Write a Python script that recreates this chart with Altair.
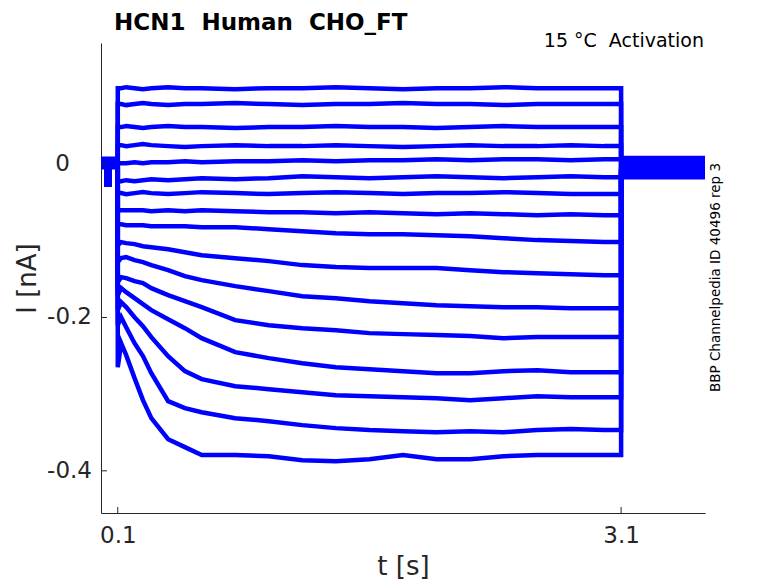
import altair as alt
import pandas as pd

# ---- data (current in nA, time in s) ----
T_STEP = [0.1, 0.12, 0.15, 0.2, 0.25, 0.3, 0.4, 0.5, 0.6, 0.8, 1.0, 1.2, 1.4,
          1.6, 1.8, 2.0, 2.2, 2.4, 2.6, 2.8, 3.0, 3.1]

TR1 = [0.0991, 0.0991, 0.1004, 0.0991, 0.0978, 0.0991, 0.1004, 0.0991, 0.0991, 0.0978, 0.0991,
       0.0991, 0.1004, 0.0991, 0.0978, 0.0991, 0.0991, 0.1004, 0.0991, 0.0991, 0.0991, 0.0991]
TR2 = [0.0783, 0.0783, 0.0770, 0.0783, 0.0796, 0.0783, 0.0770, 0.0783, 0.0783, 0.0796, 0.0783,
       0.0770, 0.0783, 0.0783, 0.0796, 0.0783, 0.0783, 0.0770, 0.0783, 0.0783, 0.0783, 0.0783]
TR3 = [0.0483, 0.0483, 0.0496, 0.0483, 0.0470, 0.0483, 0.0496, 0.0483, 0.0483, 0.0470, 0.0483,
       0.0483, 0.0496, 0.0483, 0.0483, 0.0470, 0.0483, 0.0496, 0.0483, 0.0483, 0.0483, 0.0483]
TR4 = [0.0248, 0.0248, 0.0235, 0.0248, 0.0261, 0.0248, 0.0235, 0.0222, 0.0235, 0.0248, 0.0235,
       0.0235, 0.0248, 0.0235, 0.0222, 0.0235, 0.0248, 0.0235, 0.0235, 0.0248, 0.0235, 0.0235]
TR5 = [0.0013, 0.0013, 0.0013, 0.0026, 0.0013, 0.0026, 0.0026, 0.0039, 0.0026, 0.0039, 0.0039,
       0.0052, 0.0039, 0.0052, 0.0052, 0.0065, 0.0052, 0.0065, 0.0065, 0.0052, 0.0065, 0.0065]
TR6 = [-0.0222, -0.0222, -0.0209, -0.0222, -0.0209, -0.0196, -0.0209, -0.0196, -0.0183, -0.0196, -0.0183,
       -0.0157, -0.0170, -0.0183, -0.0170, -0.0157, -0.0170, -0.0183, -0.0170, -0.0157, -0.0170, -0.0170]
TR7 = [-0.0378, -0.0378, -0.0391, -0.0378, -0.0365, -0.0378, -0.0391, -0.0378, -0.0365, -0.0378, -0.0391,
       -0.0378, -0.0365, -0.0378, -0.0391, -0.0378, -0.0378, -0.0365, -0.0378, -0.0391, -0.0391, -0.0391]
TR8 = [-0.0600, -0.0600, -0.0600, -0.0600, -0.0600, -0.0613, -0.0600, -0.0613, -0.0600, -0.0613, -0.0626,
       -0.0626, -0.0639, -0.0626, -0.0639, -0.0652, -0.0639, -0.0652, -0.0665, -0.0652, -0.0665, -0.0665]
TR9 = [-0.0783, -0.0783, -0.0796, -0.0796, -0.0796, -0.0809, -0.0809, -0.0809, -0.0822, -0.0822, -0.0848,
       -0.0874, -0.0900, -0.0913, -0.0913, -0.0926, -0.0939, -0.0965, -0.0991, -0.1004, -0.1017, -0.1017]
TR10 = [-0.1057, -0.1017, -0.1030, -0.1043, -0.1070, -0.1083, -0.1109, -0.1148, -0.1187, -0.1226, -0.1265,
        -0.1317, -0.1343, -0.1356, -0.1356, -0.1356, -0.1383, -0.1409, -0.1422, -0.1435, -0.1448, -0.1448]
TR11 = [-0.1278, -0.1226, -0.1213, -0.1252, -0.1278, -0.1317, -0.1383, -0.1461, -0.1513, -0.1591, -0.1656,
        -0.1722, -0.1748, -0.1787, -0.1813, -0.1839, -0.1852, -0.1865, -0.1865, -0.1878, -0.1878, -0.1878]
TR12 = [-0.1539, -0.1474, -0.1487, -0.1526, -0.1552, -0.1617, -0.1709, -0.1787, -0.1865, -0.2035, -0.2100,
        -0.2139, -0.2165, -0.2204, -0.2217, -0.2230, -0.2243, -0.2270, -0.2256, -0.2256, -0.2256, -0.2256]
TR13 = [-0.1709, -0.1617, -0.1670, -0.1748, -0.1826, -0.1904, -0.2022, -0.2139, -0.2270, -0.2452, -0.2530,
        -0.2596, -0.2648, -0.2674, -0.2700, -0.2726, -0.2726, -0.2700, -0.2687, -0.2713, -0.2713, -0.2713]
TR14 = [-0.1904, -0.1800, -0.1865, -0.1996, -0.2113, -0.2256, -0.2504, -0.2700, -0.2804, -0.2896, -0.2935,
        -0.2974, -0.3013, -0.3026, -0.3039, -0.3052, -0.3078, -0.3052, -0.3026, -0.3039, -0.3039, -0.3039]
TR15 = [-0.2100, -0.1996, -0.2126, -0.2335, -0.2504, -0.2726, -0.3091, -0.3182, -0.3235, -0.3313, -0.3352,
        -0.3404, -0.3443, -0.3469, -0.3483, -0.3496, -0.3483, -0.3496, -0.3469, -0.3456, -0.3469, -0.3469]
TR16 = [-0.2648, -0.2335, -0.2491, -0.2791, -0.3078, -0.3313, -0.3587, -0.3691, -0.3795, -0.3795, -0.3809,
        -0.3861, -0.3874, -0.3848, -0.3795, -0.3848, -0.3848, -0.3809, -0.3795, -0.3795, -0.3795, -0.3795]

TRACES = [TR1, TR2, TR3, TR4, TR5, TR6, TR7, TR8, TR9, TR10, TR11, TR12, TR13, TR14, TR15, TR16]

# holding level before the step, with the short artefact
PRE_T = [0.0, 0.034, 0.036, 0.048, 0.05, 0.1]
PRE_LEVEL = [0.007, 0.006, 0.005, 0.005, 0.004, 0.003, 0.002, 0.002,
             0.001, 0.0, -0.001, -0.001, -0.002, -0.003, -0.003, -0.004]
SPIKE = -0.027

# level after the step
POST_T = [3.1, 3.6]
POST_LEVEL = [0.008, 0.006, 0.005, 0.003, 0.001, 0.0, -0.002, -0.004,
              -0.005, -0.007, -0.009, -0.010, -0.012, -0.014, -0.015, -0.017]

X_TICKS = [0.1, 3.1]
Y_TICKS = [-0.4, -0.2, 0]
Y_LABELS = ["-0.4", "-0.2", "0"]

TITLE = "HCN1\u00a0 Human\u00a0 CHO_FT"
SUBTITLE = "15 °C\u00a0 Activation"
SIDE_TEXT = "BBP Channelpedia ID 40496 rep 3"

# ---- table ----
rows = []
for k, (tr, b, p) in enumerate(zip(TRACES, PRE_LEVEL, POST_LEVEL)):
    ts = PRE_T + T_STEP + POST_T
    vs = [b, b, SPIKE, SPIKE, b, b] + tr + [p, p]
    for i, (t, v) in enumerate(zip(ts, vs)):
        rows.append({"trace": k + 1, "t": t, "I": v, "idx": i})
df = pd.DataFrame(rows)

FONT = "DejaVu Sans"
AX = "#262626"
W, H = 604, 470

xscale = alt.Scale(domain=[0, 3.6], nice=False, zero=False)
yscale = alt.Scale(domain=[-0.455, 0.158], nice=False, zero=False)

X = alt.X("t:Q", scale=xscale, axis=alt.Axis(
    values=X_TICKS, format=".1f", title="t [s]", grid=False, ticks=False, tickSize=0,
    labelPadding=11, labelFontSize=23, labelFont=FONT, labelColor=AX, labelFlush=False,
    labelOverlap=False, domainColor=AX, domainWidth=1,
    titleFont=FONT, titleFontSize=26, titleFontWeight="normal", titleColor=AX,
    titleX=W / 2, titleY=53, titleBaseline="middle", titleAlign="center"))

Y = alt.Y("I:Q", scale=yscale, axis=alt.Axis(
    values=Y_TICKS, title="I [nA]", grid=False, ticks=False, tickSize=0, labels=False,
    domainColor=AX, domainWidth=1,
    titleFont=FONT, titleFontSize=26, titleFontWeight="normal", titleColor=AX,
    titleAngle=270, titleX=-73.5, titleY=H / 2, titleBaseline="middle", titleAlign="center"))

lines = alt.Chart(df).mark_line(color="#0000ff", strokeWidth=4.5, clip=True).encode(
    x=X, y=Y, detail="trace:N", order="idx:Q")

ytick = alt.Chart(pd.DataFrame({"I": Y_TICKS})).mark_rule(color=AX, strokeWidth=1).encode(
    y=Y, x=alt.value(0), x2=alt.value(6))
xtick = alt.Chart(pd.DataFrame({"t": X_TICKS})).mark_rule(color=AX, strokeWidth=1).encode(
    x=X, y=alt.value(H), y2=alt.value(H - 6))

ylab_df = pd.DataFrame({"I": Y_TICKS, "lab": Y_LABELS})
ylab_neg = alt.Chart(ylab_df).transform_filter("datum.I < 0").mark_text(
    font=FONT, fontSize=23, color=AX, align="right", baseline="middle").encode(
    y=Y, x=alt.value(-9), text="lab:N")
ylab_zero = alt.Chart(ylab_df).transform_filter("datum.I == 0").mark_text(
    font=FONT, fontSize=23, color=AX, align="right", baseline="middle").encode(
    y=Y, x=alt.value(-31), text="lab:N")

title = alt.Chart(pd.DataFrame({"s": [TITLE]})).mark_text(
    font=FONT, fontSize=23, fontWeight="bold", color="black", align="left",
    baseline="alphabetic").encode(text="s:N", x=alt.value(13), y=alt.value(-13))
sub = alt.Chart(pd.DataFrame({"s": [SUBTITLE]})).mark_text(
    font=FONT, fontSize=19, color="black", align="right",
    baseline="alphabetic").encode(text="s:N", x=alt.value(603), y=alt.value(4))
side = alt.Chart(pd.DataFrame({"s": [SIDE_TEXT]})).mark_text(
    font=FONT, fontSize=13.5, color="black", align="center", baseline="middle",
    angle=270).encode(text="s:N", x=alt.value(615), y=alt.value(234.5))

chart = alt.layer(lines, ytick, xtick, ylab_neg, ylab_zero, title, sub, side).properties(
    width=W, height=H, autosize="none",
    padding={"left": 93, "top": 35, "right": 65, "bottom": 70},
    background="white",
).configure_view(stroke=None)

chart.save("out.html", embed_options={"renderer": "svg", "actions": False})
